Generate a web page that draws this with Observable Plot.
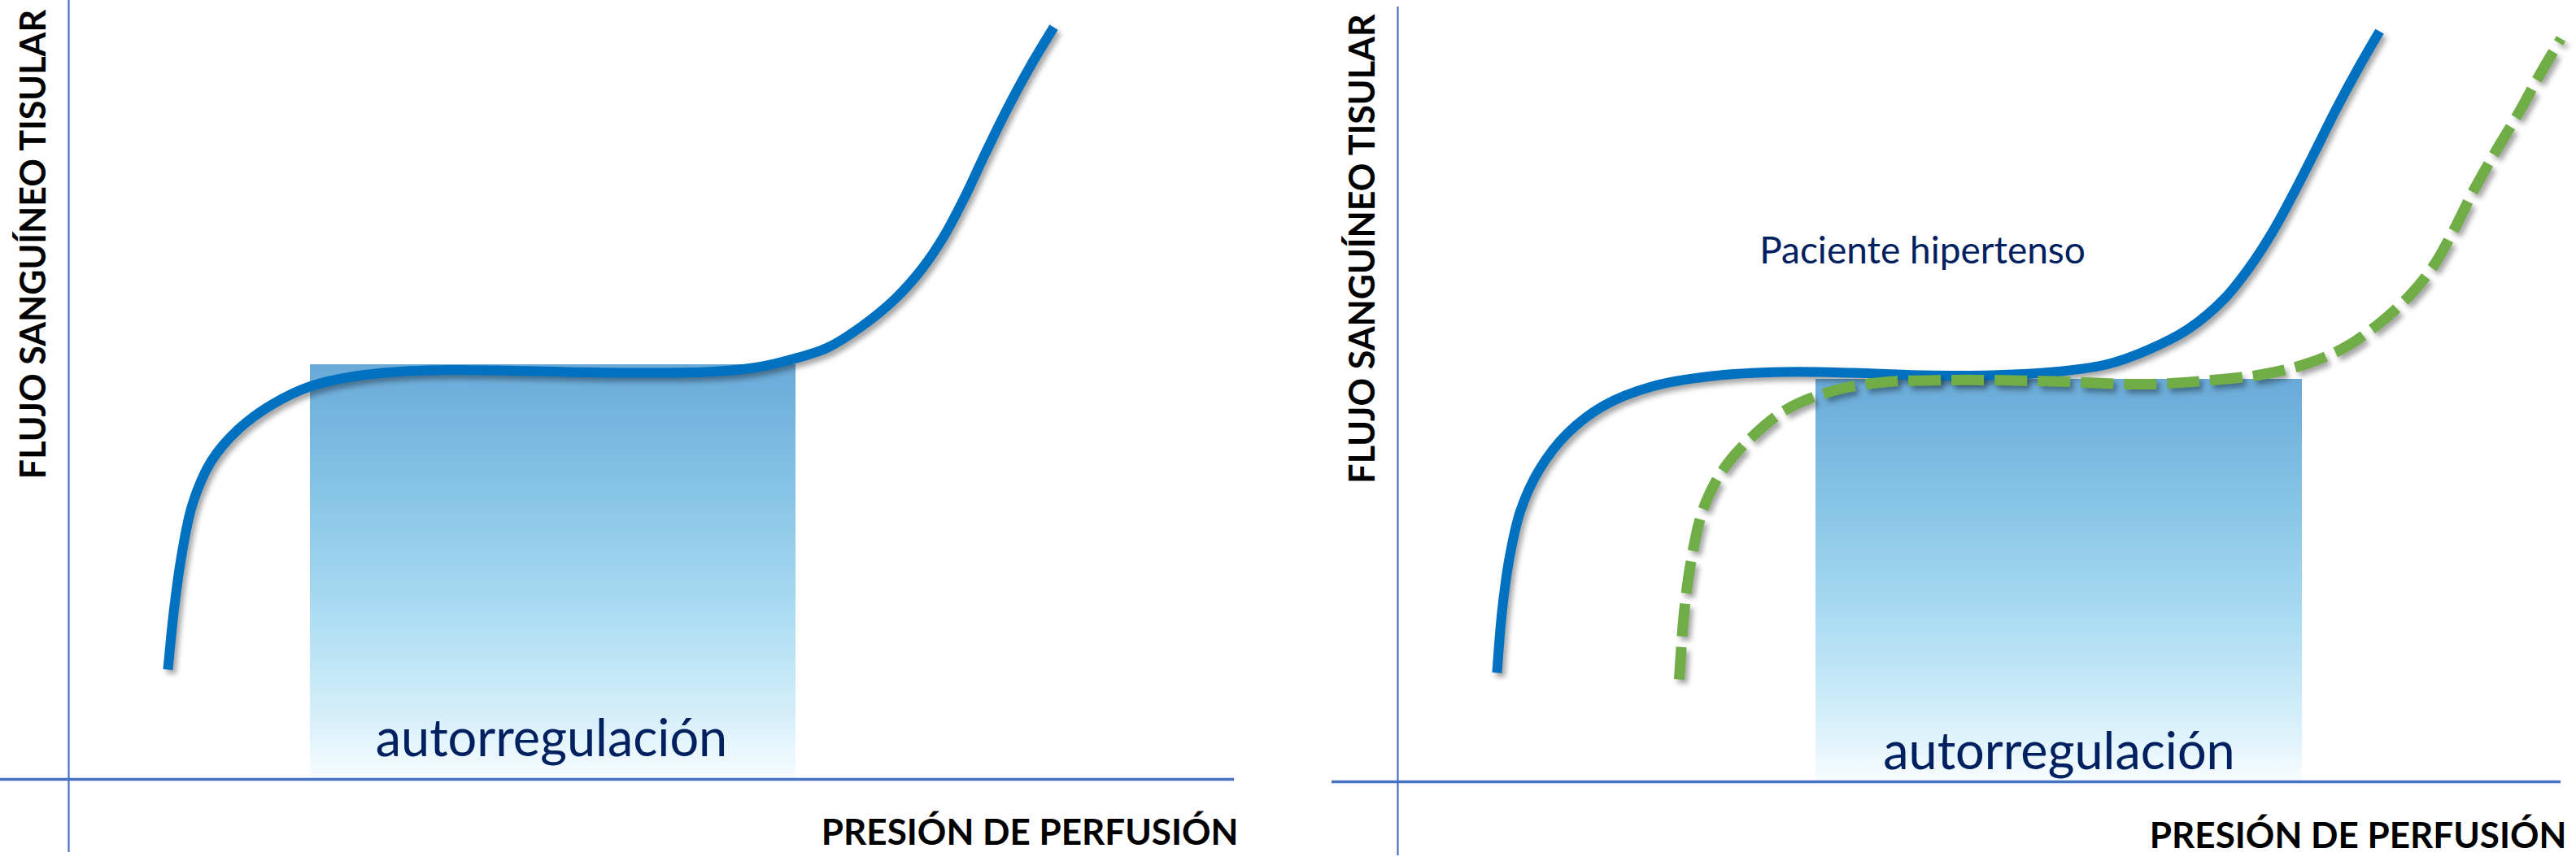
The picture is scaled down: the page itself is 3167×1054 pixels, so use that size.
<!DOCTYPE html>
<html>
<head>
<meta charset="utf-8">
<script src="https://cdn.jsdelivr.net/npm/d3@7"></script>
<script src="https://cdn.jsdelivr.net/npm/@observablehq/plot@0.6"></script>
<style>
  html, body { margin: 0; padding: 0; background: #ffffff; }
  #wrap { display: flex; flex-direction: row; width: 3167px; height: 1054px; overflow: hidden; }
  #wrap svg { display: block; background: #ffffff; overflow: visible; }
  g[aria-label="line"] { filter: drop-shadow(4px 5px 3px rgba(0,0,0,0.35)); }
</style>
</head>
<body>
<div id="wrap"></div>
<script>
// ---- Data (arbitrary units: presión de perfusión vs flujo sanguíneo tisular) ----
// Left panel: normal curve
const normalLeftP = [12.2, 12.9, 13.8, 15.2, 17.5, 20.9, 25.0, 29.6, 35.3, 43.9, 52.5, 61.1, 69.7, 78.4, 84.1, 88.3, 93.3, 97.6, 101.6, 104.9, 107.6, 110.1, 112.6, 115.3, 118.1, 121.1];
const normalLeftF = [13.5, 20.5, 27.1, 33.8, 39.1, 43.1, 46.1, 48.3, 49.6, 50.3, 50.3, 50.1, 50.0, 50.1, 50.6, 51.5, 53.1, 55.8, 59.1, 62.8, 66.8, 71.5, 76.8, 82.3, 87.5, 92.5];
// Right panel: normal curve
const normalRightP = [12.2, 12.8, 13.7, 15.1, 17.4, 20.8, 25.4, 31.2, 38.6, 47.3, 55.9, 64.5, 73.1, 81.7, 87.4, 92.2, 97.2, 101.6, 104.8, 107.7, 110.3, 112.8, 115.4, 118.1, 120.7];
const normalRightF = [13.4, 20.8, 27.4, 33.4, 38.4, 42.8, 46.3, 48.6, 49.9, 50.4, 50.3, 50.0, 50.0, 50.5, 51.4, 53.1, 55.7, 59.4, 63.4, 67.9, 72.7, 77.6, 82.8, 87.8, 92.3];
// Right panel: hypertensive patient curve (shifted to the right)
const hipertensoP = [34.6, 35.2, 36.1, 37.5, 39.8, 43.2, 47.8, 53.6, 59.3, 67.3, 78.8, 91.8, 99.0, 106.3, 111.7, 116.4, 120.7, 124.4, 127.3, 129.8, 132.3, 134.9, 137.7, 140.3, 143.0];
const hipertensoF = [12.6, 20.8, 27.4, 33.4, 38.1, 42.1, 45.8, 48.1, 49.1, 49.4, 49.3, 48.9, 49.3, 50.1, 51.4, 53.4, 56.4, 59.8, 63.4, 67.8, 72.8, 77.4, 82.1, 86.8, 91.4];
// Autoregulation ranges [start, end, plateau level]
const autoLeft = [29.7, 89.4, 51.0];
const autoRight = [51.4, 111.2, 49.5];
// Texts
const yLabel = "FLUJO SANGUÍNEO TISULAR";
const xLabel = "PRESIÓN DE PERFUSIÓN";
const autoLabel = "autorregulación";
const patientLabel = "Paciente hipertenso";

// ---- Helpers ----
const toPoints = (P, F) => P.map((p, i) => ({p, f: F[i]}));
const gradStops = [
  [0, "#6aaad8"], [0.3, "#86c3e6"], [0.6, "#aadcf2"], [0.85, "#d6effa"], [1, "#f8fdff"]
];
const gradientMark = (id) => () => {
  const defs = d3.create("svg:defs");
  const lg = defs.append("linearGradient").attr("id", id)
    .attr("x1", 0).attr("y1", 0).attr("x2", 0).attr("y2", 1);
  gradStops.forEach(([o, c]) => lg.append("stop").attr("offset", o).attr("stop-color", c));
  return defs.node();
};
const FONT = "Lato, 'Open Sans', sans-serif";
const AXIS = "#4472c4";
const BLUE = "#0070c0";
const GREEN = "#70ad47";
const NAVY = "#002060";

function panel({width, margins, xDomain, yDomain, gradId, auto, curves, texts}) {
  const marks = [
    gradientMark(gradId),
    Plot.rect([auto], {x1: d => d[0], x2: d => d[1], y1: 0, y2: d => d[2], fill: `url(#${gradId})`}),
    Plot.ruleX([0], {stroke: AXIS, strokeWidth: 2.2}),
    Plot.ruleY([0], {stroke: AXIS, strokeWidth: 3.5}),
    ...curves,
    ...texts
  ];
  return Plot.plot({
    width, height: 1054,
    marginTop: margins[0], marginRight: margins[1], marginBottom: margins[2], marginLeft: margins[3],
    x: {domain: xDomain, axis: null},
    y: {domain: yDomain, axis: null},
    style: {background: "#ffffff", fontFamily: FONT},
    marks
  });
}

const yLabelMark = (x, y) => Plot.text([yLabel], {x: () => x, y: () => y, text: d => d, rotate: -90,
  fontSize: 43, fontWeight: 700, fontFamily: FONT, fill: "#000000"});
const xLabelMark = (x, y) => Plot.text([xLabel], {x: () => x, y: () => y, text: d => d, textAnchor: "end", lineAnchor: "bottom",
  fontSize: 44, fontWeight: 700, fontFamily: FONT, fill: "#000000"});
const autoMark = (x, y) => Plot.text([autoLabel], {x: () => x, y: () => y, text: d => d, lineAnchor: "bottom",
  fontSize: 63, fontFamily: FONT, fill: NAVY});

const left = panel({
  width: 1600,
  margins: [0, 83, 6, 0],
  xDomain: [-8.4, 143.3],
  yDomain: [-9.0, 95.8],
  gradId: "gradLeft",
  auto: autoLeft,
  curves: [
    Plot.line(toPoints(normalLeftP, normalLeftF), {x: "p", y: "f", stroke: BLUE, strokeWidth: 12, curve: "catmull-rom", strokeLinecap: "butt"})
  ],
  texts: [
    yLabelMark(-4.2, 65.8),
    xLabelMark(143.8, -8.0),
    autoMark(59.35, 2.9)
  ]
});

const right = panel({
  width: 1567,
  margins: [8, 19, 2, 37],
  xDomain: [-8.1, 143.0],
  yDomain: [-9.1, 95.3],
  gradId: "gradRight",
  auto: autoRight,
  curves: [
    Plot.line(toPoints(normalRightP, normalRightF), {x: "p", y: "f", stroke: BLUE, strokeWidth: 12, curve: "catmull-rom", strokeLinecap: "butt"}),
    Plot.line(toPoints(hipertensoP, hipertensoF), {x: "p", y: "f", stroke: GREEN, strokeWidth: 13, curve: "catmull-rom", strokeDasharray: "40,13", strokeLinecap: "butt"})
  ],
  texts: [
    yLabelMark(-4.2, 65.55),
    xLabelMark(143.7, -8.1),
    autoMark(81.3, 1.6),
    Plot.text([patientLabel], {x: () => 64.5, y: () => 63.8, text: d => d, lineAnchor: "bottom",
      fontSize: 46, fontFamily: FONT, fill: NAVY})
  ]
});

document.getElementById("wrap").append(left, right);
</script>
</body>
</html>
